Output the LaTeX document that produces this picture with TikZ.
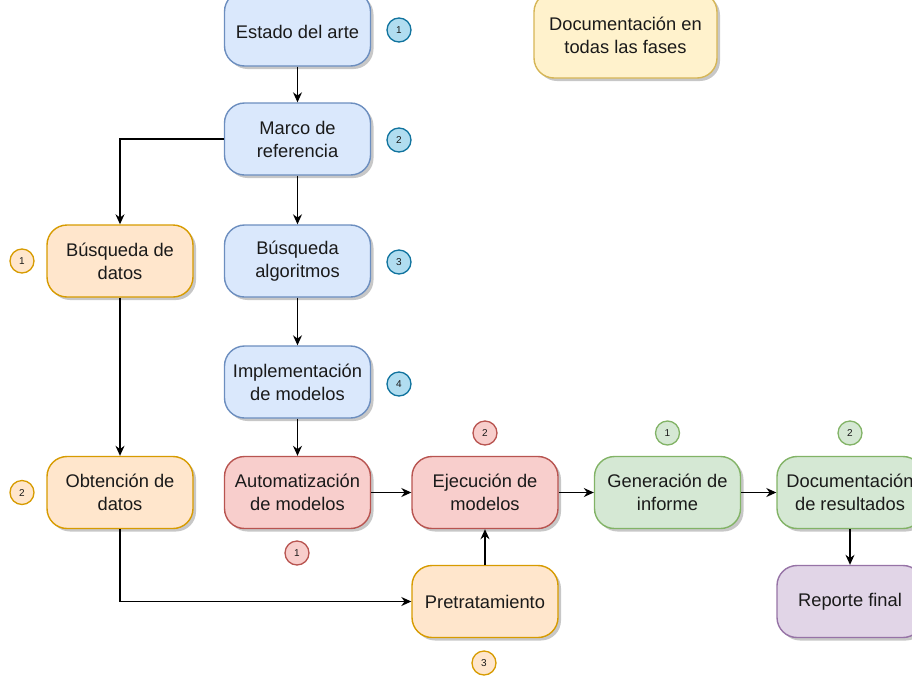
\documentclass[tikz,border=0pt]{standalone}
\usepackage{fontspec}
\setmainfont{Liberation Sans}
\usetikzlibrary{arrows.meta,shadows}

% draw.io palette
\definecolor{blueF}{HTML}{DAE8FC}\definecolor{blueS}{HTML}{6C8EBF}
\definecolor{orangeF}{HTML}{FFE6CC}\definecolor{orangeS}{HTML}{D79B00}
\definecolor{redF}{HTML}{F8CECC}\definecolor{redS}{HTML}{B85450}
\definecolor{greenF}{HTML}{D5E8D4}\definecolor{greenS}{HTML}{82B366}
\definecolor{purpleF}{HTML}{E1D5E7}\definecolor{purpleS}{HTML}{9673A6}
\definecolor{yellowF}{HTML}{FFF2CC}\definecolor{yellowS}{HTML}{D6B656}
\definecolor{cyanF}{HTML}{B1DDF0}\definecolor{cyanS}{HTML}{10739E}
\definecolor{txt}{HTML}{1A1A1A}

\tikzset{
  phase/.style={draw=#1S, fill=#1F, line width=1.4pt, rounded corners=20pt,
    minimum width=146pt, minimum height=72pt, inner sep=2pt, align=center,
    text=txt, font=\fontsize{18.3}{23}\selectfont,
    drop shadow={shadow xshift=3pt, shadow yshift=-3pt, opacity=0.22, fill=black}},
  badge/.style={circle, draw=#1S, fill=#1F, line width=1.3pt, minimum size=24pt,
    inner sep=0pt, text=txt, font=\fontsize{10}{12}\selectfont},
  flow/.style={draw=black, line width=1.3pt, -{Stealth[length=10pt,width=9pt]}}
}

\begin{document}
\begin{tikzpicture}[x=1pt, y=-1pt]
\path[use as bounding box, clip] (0,0) rectangle (912,675);

% main column (the first box runs past the top edge)
\node[phase=blue, inner sep=0pt, minimum height=0pt, text height=47pt, text depth=27.5pt,
      anchor=base] (est) at (297.5, 38.5) {Estado del arte};
\node[phase=blue] (marco) at (297.5, 139)  {Marco de\\referencia};
\node[phase=blue] (balg) at (297.5, 261)  {Búsqueda\\algoritmos};
\node[phase=blue] (impl) at (297.5, 382)  {Implementación\\de modelos};
\node[phase=red]  (auto) at (297.5, 492.5) {Automatización\\de modelos};

% data column
\node[phase=orange] (bdat) at (120, 261)   {Búsqueda de\\datos};
\node[phase=orange] (obt)  at (120, 492.5) {Obtención de\\datos};

% execution row
\node[phase=red]    (ejec) at (485, 492.5)   {Ejecución de\\modelos};
\node[phase=green]  (gen)  at (667.5, 492.5) {Generación de\\informe};
\node[phase=green]  (doc)  at (850, 492.5)   {Documentación\\de resultados};
\node[phase=orange] (pre)  at (485, 601.5)   {Pretratamiento};
\node[phase=purple] (rep)  at (850, 601.5)   {Reporte final};

% note
\node[phase=yellow, minimum width=183pt, minimum height=86pt] (docall) at (625.5, 35)
  {Documentación en\\todas las fases};

% step badges
\node[badge=cyan] (b1) at (399, 30)  {1};
\node[badge=cyan] (b2) at (399, 140) {2};
\node[badge=cyan] (b3) at (399, 262) {3};
\node[badge=cyan] (b4) at (399, 384) {4};
\node[badge=orange] (o1) at (22, 261) {1};
\node[badge=orange] (o2) at (22, 492.5) {2};
\node[badge=orange] (o3) at (484, 663) {3};
\node[badge=red] (r1) at (297, 553) {1};
\node[badge=red] (r2) at (485, 433) {2};
\node[badge=green] (g1) at (667.5, 433) {1};
\node[badge=green] (g2) at (850, 433) {2};

% connectors
\draw[flow] (est) -- (marco);
\draw[flow] (marco.west) -| (bdat.north);
\draw[flow] (marco) -- (balg);
\draw[flow] (balg) -- (impl);
\draw[flow] (impl) -- (auto);
\draw[flow] (bdat) -- (obt);
\draw[flow] (obt.south) |- (pre.west);
\draw[flow] (auto) -- (ejec);
\draw[flow] (pre) -- (ejec);
\draw[flow] (ejec) -- (gen);
\draw[flow] (gen) -- (doc);
\draw[flow] (doc) -- (rep);
\end{tikzpicture}
\end{document}
